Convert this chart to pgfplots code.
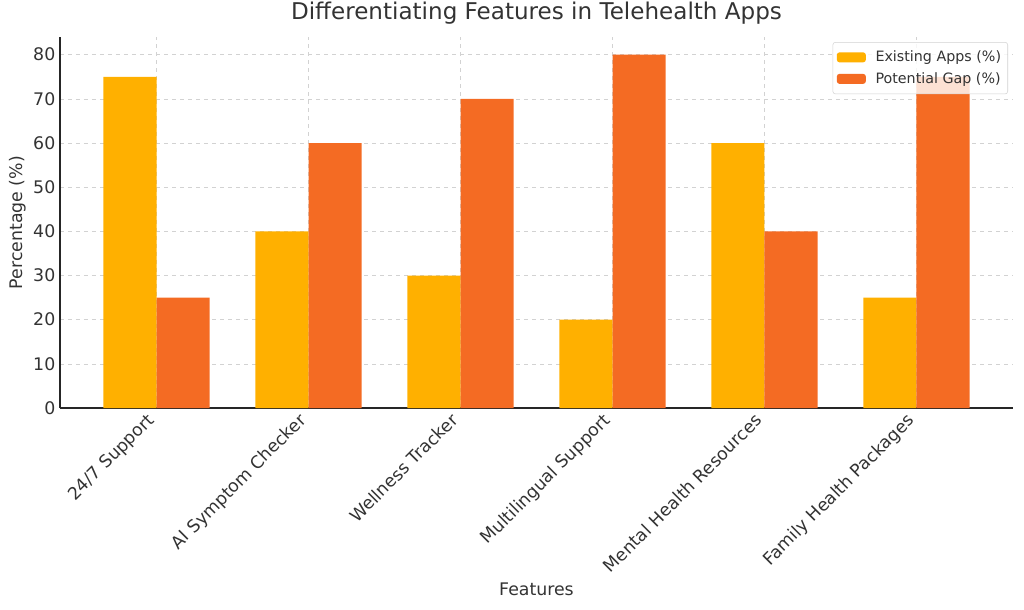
\documentclass[border=0pt]{standalone}
\usepackage{fontspec}
\setmainfont{DejaVu Sans}
\usepackage{pgfplots}
\pgfplotsset{compat=1.18}
\definecolor{existing}{HTML}{FFB000}
\definecolor{gapc}{HTML}{F46B23}
\definecolor{txt}{HTML}{333333}
\begin{document}
\begin{tikzpicture}
% page = 1024x610 px at 0.75pt per px; axis box at x 60..1013, y 37..408
\useasboundingbox (-45pt,-151.5pt) rectangle (723pt,306pt);
\begin{axis}[
  width=714.75pt, height=278.25pt, scale only axis,
  xmin=-0.635, xmax=5.635, ymin=0, ymax=84,
  axis x line*=bottom, axis y line*=left,
  axis line style={-, black!85, line width=0.8pt},
  xtick={0,...,5},
  xticklabels={24/7 Support, AI Symptom Checker, Wellness Tracker, Multilingual Support, Mental Health Resources, Family Health Packages},
  xticklabel style={xshift=-8pt, rotate=45, anchor=north east, font=\fontsize{13}{15}\selectfont, text=txt, inner sep=2pt},
  ytick={0,10,...,80},
  yticklabel style={font=\fontsize{13}{15}\selectfont, text=txt},
  /pgf/number format/assume math mode=true,
  grid=major, grid style={dashed, gray!35, line width=0.5pt},
  major tick length=0pt,
  title={Differentiating Features in Telehealth Apps},
  title style={at={(axis description cs:0.5,1.0243)}, anchor=base, font=\fontsize{17.3}{20}\selectfont, text=txt},
  xlabel={Features}, ylabel={Percentage (\%)},
  xlabel style={at={(axis description cs:0.5,-0.5067)}, anchor=base, font=\fontsize{13}{15}\selectfont, text=txt},
  ylabel style={at={(axis description cs:-0.0441,0.5)}, anchor=center, font=\fontsize{13}{15}\selectfont, text=txt},
  legend style={at={(axis description cs:1,1)}, anchor=north east, xshift=-3.75pt, yshift=-3.75pt,
    draw=gray!35, rounded corners=2pt,
    fill=white, fill opacity=0.8, text opacity=1, font=\fontsize{10.7}{12}\selectfont, text=txt,
    legend cell align=left, row sep=2.5pt, inner xsep=3pt, inner ysep=4.5pt},
  legend image code/.code={\fill[#1, fill opacity=1] (0pt,-3.75pt) rectangle (21.75pt,3.75pt);
    \path (27pt,0pt);},
]
\addplot[ybar, bar width=0.35, bar shift=0pt, fill=existing, draw=none]
  coordinates {(-0.175,75) (0.825,40) (1.825,30) (2.825,20) (3.825,60) (4.825,25)};
\addlegendentry{Existing Apps (\%)}
\addplot[ybar, bar width=0.35, bar shift=0pt, fill=gapc, draw=none]
  coordinates {(0.175,25) (1.175,60) (2.175,70) (3.175,80) (4.175,40) (5.175,75)};
\addlegendentry{Potential Gap (\%)}
\end{axis}
\end{tikzpicture}
\end{document}
